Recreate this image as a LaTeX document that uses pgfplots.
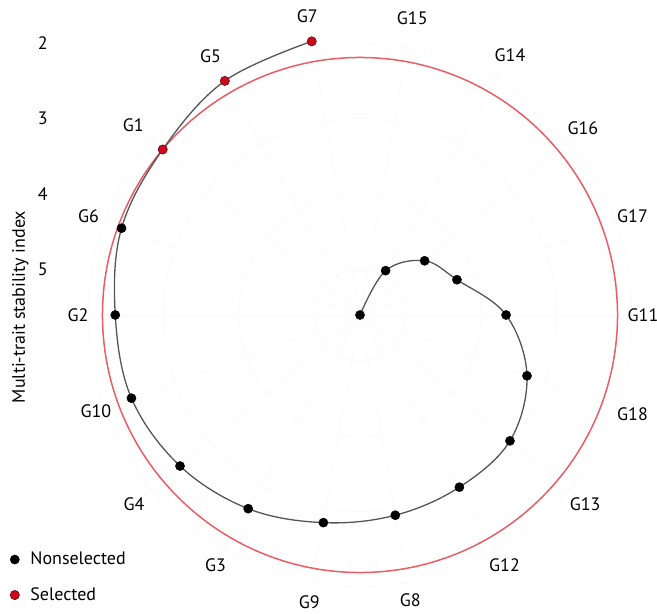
\documentclass[border=0pt]{standalone}
\usepackage{fontspec}
\setmainfont{PT Sans}
\usepackage{pgfplots}
\pgfplotsset{compat=1.18}
\usepackage{pgfplotstable}

\definecolor{selred}{RGB}{205,10,28}
\definecolor{seledge}{RGB}{110,0,10}
\definecolor{cutred}{RGB}{234,92,102}
\definecolor{spiral}{RGB}{85,85,85}
\definecolor{gridc}{RGB}{249,249,249}

% ang = angle (deg, counter-clockwise from east), mtsi = index, lr = label radius (pt)
\pgfplotstableread{
gen ang mtsi lr
G7  100 1.92 303
G5  120 2.02 299
G1  140 2.19 296
G6  160 2.24 289
G2  180 2.36 282
G10 200 2.38 281
G4  220 2.49 295
G3  240 2.64 289
G9  260 2.81 292
G8  280 2.91 290
G12 300 2.97 289
G13 320 3.01 294
G18 340 3.25 290
G11 360 3.67 283
G17 380 4.24 290
G16 400 4.49 291
G14 420 4.93 300
G15 440 5.61 301
}\mtsi

% radius in pt: 75.3pt per index unit, centre at 5.61
\def\rad{75.3*(5.61-\thisrow{mtsi})}

\begin{document}
\fontsize{18}{21}\selectfont
\begin{tikzpicture}
\begin{axis}[
  x=1pt, y=1pt,
  xmin=-360, xmax=297, ymin=-299, ymax=315,
  axis line style={draw=none},
  tick style={draw=none},
  xtick=\empty,
  ytick={271.83,196.53,121.23,45.93},
  yticklabels={2,3,4,5},
  yticklabel style={anchor=east, xshift=54pt},
  /pgf/number format/assume math mode=true,
  ylabel={Multi-trait stability index},
  every axis y label/.style={at={(axis description cs:0.031,0.5)}, rotate=90, anchor=center},
  clip=false,
  legend style={at={(axis description cs:0,0)}, anchor=south west, draw=none, fill=none,
    xshift=7pt, yshift=7pt, row sep=16pt, column sep=9pt},
  legend cell align=left,
  legend image code/.code={\draw[#1] plot coordinates {(0pt,0pt)};},
]
% faint polar grid
\pgfplotsinvokeforeach{0,20,...,340}{
  \draw[gridc, line width=0.8pt] (axis cs:0,0) -- (axis cs:{285*cos(#1)},{285*sin(#1)});
}
\pgfplotsinvokeforeach{271.83,196.53,121.23,45.93}{
  \draw[gridc, line width=0.8pt] (axis cs:0,0) circle[radius=#1];
}
% cut-off: index of last selected genotype (G1)
\draw[cutred, line width=1.5pt] (axis cs:0,0) circle[radius={75.3*(5.61-2.19)}];

\addplot[spiral, line width=1.3pt, smooth, tension=0.6, data cs=polar, forget plot]
  table[x=ang, y expr=\rad] {\mtsi};

\addplot[only marks, mark=*, mark size=4.6pt, draw=black, fill=black, data cs=polar,
  skip coords between index={0}{3}]
  table[x=ang, y expr=\rad] {\mtsi};
\addlegendentry{Nonselected}
\addplot[only marks, mark=*, mark size=4.6pt, draw=seledge, fill=selred, line width=0.6pt,
  data cs=polar, skip coords between index={3}{18}]
  table[x=ang, y expr=\rad] {\mtsi};
\addlegendentry{Selected}

\addplot[draw=none, data cs=polar, nodes near coords, point meta=explicit symbolic,
  nodes near coords align={center}, forget plot]
  table[x=ang, y=lr, meta=gen] {\mtsi};
\end{axis}
\pgfresetboundingbox
\path[use as bounding box] (current axis.south west) rectangle (current axis.north east);
\end{tikzpicture}
\end{document}
